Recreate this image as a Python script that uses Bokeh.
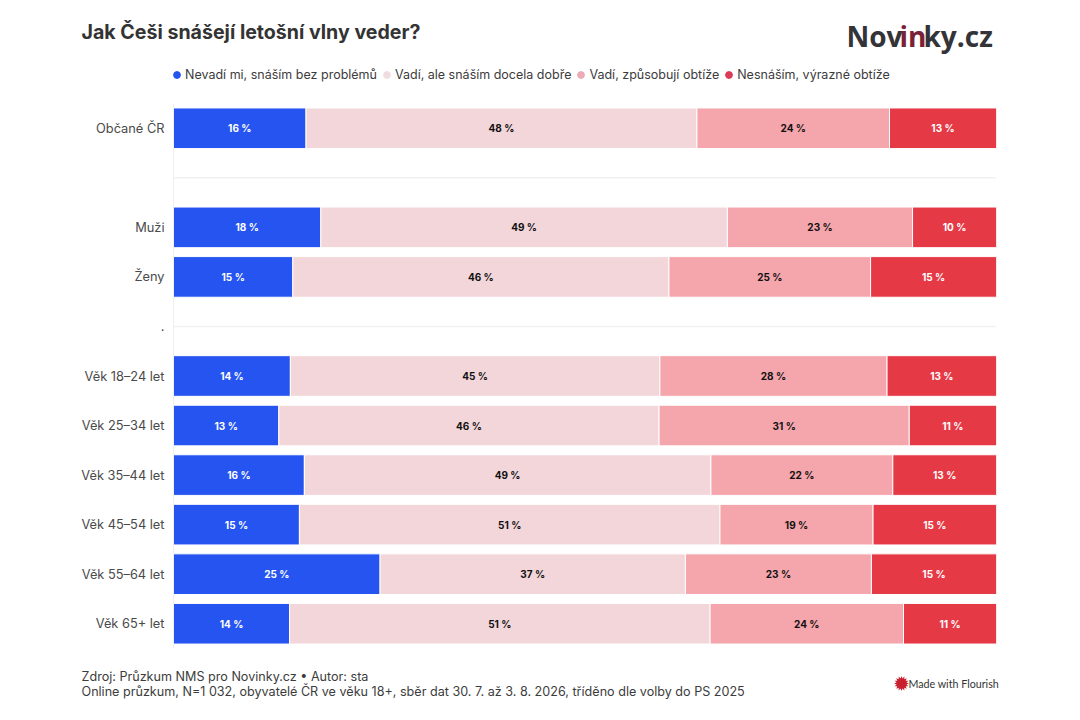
import math
import pandas as pd
from bokeh.plotting import figure
from bokeh.layouts import column
from bokeh.models import ColumnDataSource, FactorRange, Range1d, Label, Legend, LegendItem, PolyAnnotation
from bokeh.core.properties import value
from bokeh.embed import file_html
from bokeh.resources import INLINE

FONT = "Inter"
factors = ["Občané ČR", " ", "Muži", "Ženy", ".", "Věk 18–24 let", "Věk 25–34 let",
           "Věk 35–44 let", "Věk 45–54 let", "Věk 55–64 let", "Věk 65+ let"]
groups = ["Občané ČR", "Muži", "Ženy", "Věk 18–24 let", "Věk 25–34 let",
          "Věk 35–44 let", "Věk 45–54 let", "Věk 55–64 let", "Věk 65+ let"]
series = ["Nevadí mi, snáším bez problémů", "Vadí, ale snáším docela dobře",
          "Vadí, způsobují obtíže", "Nesnáším, výrazné obtíže"]
colors = ["#2554f0", "#f3d6da", "#f5a5ac", "#e63946"]
legend_colors = ["#2554f0", "#f0dde1", "#edaab6", "#dd3a57"]
label_colors = ["#ffffff", "#111111", "#111111", "#ffffff"]

nevadi = [16.1, 17.9, 14.5, 14.2, 12.8, 15.9, 15.3, 25.1, 14.1]
dobre = [47.5, 49.4, 45.7, 44.9, 46.2, 49.4, 51.1, 37.1, 51.1]
obtize = [23.4, 22.5, 24.5, 27.6, 30.4, 22.1, 18.6, 22.6, 23.5]
nesnasim = [13.0, 10.2, 15.3, 13.3, 10.6, 12.6, 15.0, 15.2, 11.3]

nevadi_labels = ["16 %", "18 %", "15 %", "14 %", "13 %", "16 %", "15 %", "25 %", "14 %"]
dobre_labels = ["48 %", "49 %", "46 %", "45 %", "46 %", "49 %", "51 %", "37 %", "51 %"]
obtize_labels = ["24 %", "23 %", "25 %", "28 %", "31 %", "22 %", "19 %", "23 %", "24 %"]
nesnasim_labels = ["13 %", "10 %", "15 %", "13 %", "11 %", "13 %", "15 %", "15 %", "11 %"]

title_text = "Jak Češi snášejí letošní vlny veder?"
footer_1 = "Zdroj: Průzkum NMS pro Novinky.cz • Autor: sta"
footer_2 = "Online průzkum, N=1 032, obyvatelé ČR ve věku 18+, sběr dat 30. 7. až 3. 8. 2026, tříděno dle volby do PS 2025"

values = [nevadi, dobre, obtize, nesnasim]
labels = [nevadi_labels, dobre_labels, obtize_labels, nesnasim_labels]

W = 1076
TOP_H, MAIN_H, BOT_H = 103, 545, 68
L, R = 173, W - 996


def blank(h):
    f = figure(width=W, height=h, output_backend="svg", toolbar_location=None,
               x_range=Range1d(0, W), y_range=Range1d(0, h), x_axis_location=None, y_axis_location=None,
               min_border=0, outline_line_color=None, background_fill_color="#ffffff", border_fill_color="#ffffff",
               frame_align=False)
    f.xgrid.visible = False
    f.ygrid.visible = False
    return f


top = blank(TOP_H)
bot = blank(BOT_H)

p = figure(width=W, height=MAIN_H, output_backend="svg", toolbar_location=None,
           x_range=Range1d(0, 100), y_range=FactorRange(factors=factors[::-1], range_padding=0, factor_padding=0),
           min_border_left=L, min_border_right=R, min_border_top=0, min_border_bottom=0,
           x_axis_location=None, frame_align=False,
           background_fill_color="#ffffff", border_fill_color="#ffffff", outline_line_color=None)
p.xgrid.visible = False
p.ygrid.visible = False
ax = p.yaxis[0]
ax.major_tick_line_color = None
ax.minor_tick_line_color = None
ax.axis_line_color = "#f0f0f0"
ax.major_label_standoff = 3
ax.major_label_text_font = FONT
ax.major_label_text_font_size = "12.8px"
ax.major_label_text_color = "#4a4a4a"

p.segment(x0=[0, 0], x1=[100, 100], y0=[" ", "."], y1=[" ", "."], line_color="#f1f1f1", line_width=1.5)

df = pd.DataFrame({"group": groups})
for s, v in zip(series, values):
    df[s] = v
src = ColumnDataSource(df)
p.hbar_stack(series, y="group", height=0.82, color=colors, source=src, line_color="#ffffff", line_width=1)

left = [0.0] * len(groups)
for v, lab, col in zip(values, labels, label_colors):
    mids = [a + b / 2 for a, b in zip(left, v)]
    left = [a + b for a, b in zip(left, v)]
    p.text(x=mids, y=groups, text=lab, text_align="center", text_baseline="middle",
           text_font=value(FONT), text_font_style="bold", text_font_size="10px", text_color=col)

items = []
for s, c in zip(series, legend_colors):
    r = top.scatter(x=[-50], y=[-50], marker="circle", size=7, fill_color=c, line_color=c)
    items.append(LegendItem(label=s, renderers=[r]))
leg = Legend(items=items, orientation="horizontal", location=(168, TOP_H - 83), glyph_width=17, glyph_height=17,
             label_standoff=0, spacing=1, padding=0, margin=0, border_line_color=None, background_fill_alpha=0,
             label_text_font=FONT, label_text_font_size="12.5px", label_text_color="#3c3c3c", label_height=17)
top.add_layout(leg, "center")


def put(fig, h, y0, text, x, y, size, color="#333333", style="normal", font=FONT):
    fig.add_layout(Label(x=x, y=h - (y - y0), x_units="screen", y_units="screen", text=text, text_font=font,
                         text_font_size=size, text_color=color, text_font_style=style,
                         text_baseline="alphabetic"))


put(top, TOP_H, 0, title_text, 81, 31, "19.6px", "#333333", "bold")
put(top, TOP_H, 0, "Nov", 846, 35, "28px", "#333338", "bold", "Open Sans")
put(top, TOP_H, 0, "in", 899, 35, "28px", "#7a2038", "bold", "Open Sans")
put(top, TOP_H, 0, "ky.cz", 923, 35, "28px", "#333338", "bold", "Open Sans")

BY = TOP_H + MAIN_H
put(bot, BOT_H, BY, footer_1, 81, 676, "12.6px", "#3c3c3c")
put(bot, BOT_H, BY, footer_2, 81, 691, "12.6px", "#3c3c3c")
put(bot, BOT_H, BY, "Made with Flourish", 908, 683, "10.7px", "#333333", "normal", "Lato")

cx, cy = 901, BOT_H - (683 - BY)
xs, ys = [], []
for i in range(32):
    rad = 7.5 if i % 2 == 0 else 5
    a = 2 * math.pi * i / 32
    xs.append(cx + rad * math.cos(a))
    ys.append(cy + rad * math.sin(a))
bot.add_layout(PolyAnnotation(xs=xs, ys=ys, xs_units="screen", ys_units="screen",
                              fill_color="#c8202f", fill_alpha=1, line_color=None))

page = column(top, p, bot, spacing=0)
open("out.html", "w").write(file_html(page, INLINE))
